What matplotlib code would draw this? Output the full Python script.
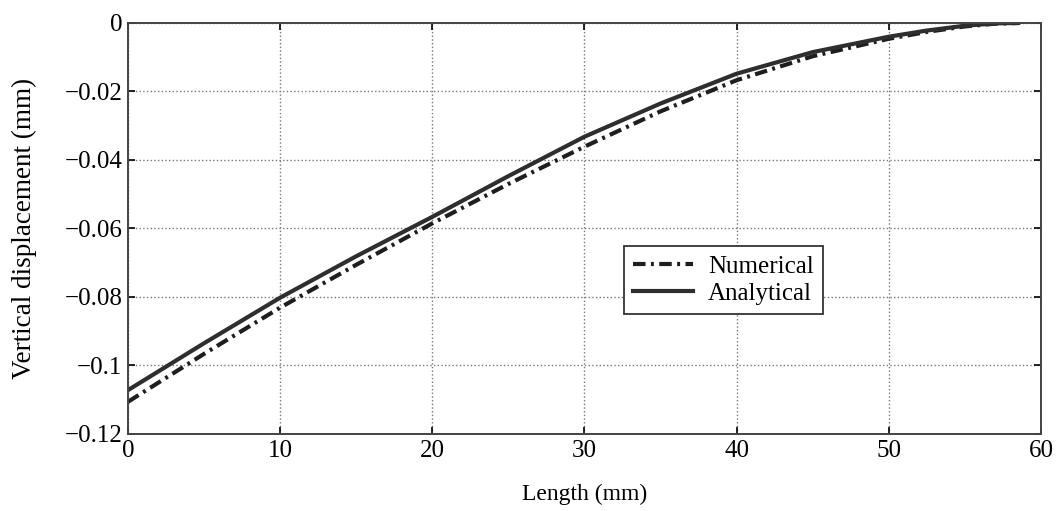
import numpy as np
import matplotlib
matplotlib.use("Agg")
import matplotlib.pyplot as plt

plt.rcParams['font.family'] = ['Liberation Serif', 'DejaVu Serif']

# Values
length = [0, 5, 10, 15, 20, 25, 30, 35, 40, 45, 50, 52.5, 55, 57, 58.5]
analytical = [-0.1072, -0.0935, -0.0802, -0.0681, -0.0566, -0.0447, -0.0332,
              -0.0235, -0.0148, -0.0085, -0.0040, -0.0022, -0.0008, -0.0001, 0.0]
numerical = [-0.1106, -0.0966, -0.0831, -0.0706, -0.0585, -0.0470, -0.0361,
             -0.0258, -0.0167, -0.0097, -0.0046, -0.0026, -0.0010, -0.0002, 0.0]

fig = plt.figure(figsize=(10.56, 5.11), dpi=100)
ax = fig.add_axes([0.1212, 0.1507, 0.8646, 0.8043])

ax.plot(length, numerical, color='#1e1e1e', linewidth=3,
        linestyle=(0, (3, 1.3, 0.7, 1.3)), label='Numerical')
ax.plot(length, analytical, color='#2e2e2e', linewidth=3,
        linestyle='-', label='Analytical')

ax.set_xlim(0, 60)
ax.set_ylim(-0.12, 0)
ax.set_xticks(np.arange(0, 61, 10))
ax.set_yticks([-0.12, -0.1, -0.08, -0.06, -0.04, -0.02, 0])
ax.set_yticklabels(['\u22120.12', '\u22120.1', '\u22120.08', '\u22120.06',
                    '\u22120.04', '\u22120.02', '0'])
ax.grid(True, linestyle=':', color='#777777', linewidth=1)
ax.tick_params(direction='in', top=True, right=True, labelsize=18,
               length=5, width=1.2, pad=4)
for s in ax.spines.values():
    s.set_linewidth(1.4)
    s.set_color('#444444')

ax.set_xlabel('Length (mm)', fontsize=17, labelpad=16)
ax.set_ylabel('Vertical displacement (mm)', fontsize=19.5, labelpad=20)

leg = ax.legend(loc='upper left', bbox_to_anchor=(0.53, 0.487), fontsize=18,
                fancybox=False, framealpha=1, edgecolor='#333333',
                handlelength=2.4, borderpad=0.35, labelspacing=0.2,
                handletextpad=0.6)
leg.get_frame().set_linewidth(1.3)

fig.savefig('out.png', dpi=100)
